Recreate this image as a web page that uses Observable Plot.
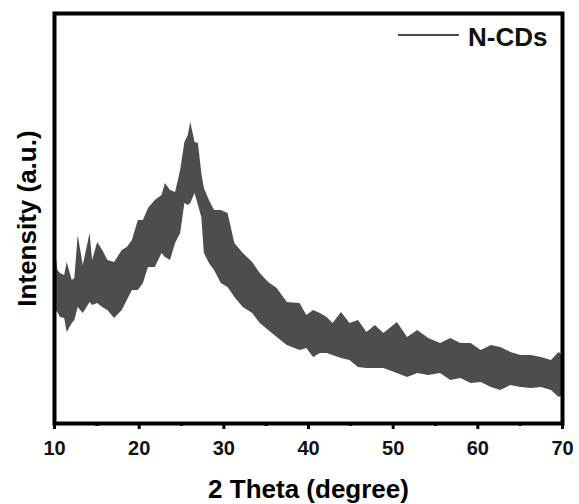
<!DOCTYPE html>
<html><head><meta charset="utf-8">
<script src="https://cdn.jsdelivr.net/npm/d3@7"></script>
<script src="https://cdn.jsdelivr.net/npm/@observablehq/plot@0.6"></script>
<style>body{margin:0;background:#fff} svg{font-family:"Liberation Sans",Arial,sans-serif}</style>
</head><body><div id="chart"></div>
<script>
const twoTheta = [10.0,10.4,10.7,11.2,11.5,12.1,12.4,12.8,13.4,14.2,14.5,15.1,15.7,16.3,17.1,18.0,18.6,19.2,19.9,20.5,21.1,21.9,22.7,23.1,23.7,24.3,24.9,25.4,25.8,26.1,26.6,27.0,27.4,27.7,28.3,28.9,29.7,30.5,31.3,32.3,33.4,34.3,35.3,36.3,37.5,39.0,39.8,40.6,41.4,42.2,42.9,43.9,44.9,45.9,46.9,47.9,48.9,50.5,51.7,52.9,54.2,55.6,56.8,58.0,59.2,60.4,61.6,62.7,63.9,65.1,66.3,67.5,68.7,69.6,70.0];
const upper = [180,153,150,148,161,143,145,188,158,190,163,181,173,163,161,173,176,183,203,203,215,223,228,240,233,231,253,281,288,301,281,280,250,235,223,213,213,210,180,170,161,150,141,135,121,120,108,113,110,106,100,111,100,103,91,98,90,101,86,93,85,80,85,80,80,73,78,76,71,68,68,66,63,71,68];
const lower = [113,111,106,105,91,100,103,116,110,121,118,120,116,113,105,113,123,133,133,140,156,156,170,166,163,180,190,220,218,220,230,218,206,170,160,153,140,136,126,116,110,100,93,86,78,73,75,66,70,70,68,65,63,56,55,55,55,50,46,50,48,50,43,45,40,41,36,33,38,36,35,36,33,26,28];
const xTicks = [10,20,30,40,50,60,70];
const minorTicks = [15,25,35,45,55,65];
const seriesName = "N-CDs";
const xLabel = "2 Theta (degree)";
const yLabel = "Intensity (a.u.)";

const data = twoTheta.map((t,i)=>({t, hi: upper[i], lo: lower[i]}));
const bandColor = "#4d4d4d";
const plot = Plot.plot({
  width: 579, height: 504,
  marginLeft: 54, marginRight: 17, marginTop: 13, marginBottom: 81,
  style: {fontFamily: "'Liberation Sans', Arial, sans-serif", background: "#fff"},
  x: {domain: [10, 70]},
  y: {domain: [0, 410], axis: null},
  marks: [
    Plot.areaY(data, {x: "t", y1: "lo", y2: "hi", fill: bandColor, curve: "linear"}),
    Plot.frame({stroke: "#000", strokeWidth: 4}),
    Plot.axisX({ticks: minorTicks, tickSize: 3, strokeWidth: 3, tickFormat: () => "", label: null}),
    Plot.axisX({ticks: xTicks, tickSize: 6, tickPadding: 11, strokeWidth: 3, fontSize: 20, fontWeight: "bold", fill: "#111", label: null}),
    Plot.text([xLabel], {frameAnchor: "bottom", dy: 74, lineAnchor: "bottom", fontSize: 26, fontWeight: "bold", fill: "#000"}),
    Plot.text([yLabel], {frameAnchor: "left", textAnchor: "middle", rotate: -90, dx: -19, lineAnchor: "bottom", fontSize: 26, fontWeight: "bold", fill: "#000"}),
    Plot.text([seriesName], {frameAnchor: "top-right", dx: -15, dy: 32, textAnchor: "end", lineAnchor: "bottom", fontSize: 26, fontWeight: "bold", fill: "#111"})
  ]
});
const [rx0, rx1] = plot.scale("x").range;
const [ry0, ry1] = plot.scale("y").range;
d3.select(plot).append("line")
  .attr("x1", rx1 - 164).attr("x2", rx1 - 103)
  .attr("y1", ry1 + 22).attr("y2", ry1 + 22)
  .attr("stroke", bandColor).attr("stroke-width", 2);
document.getElementById("chart").appendChild(plot);
</script>
</body></html>
